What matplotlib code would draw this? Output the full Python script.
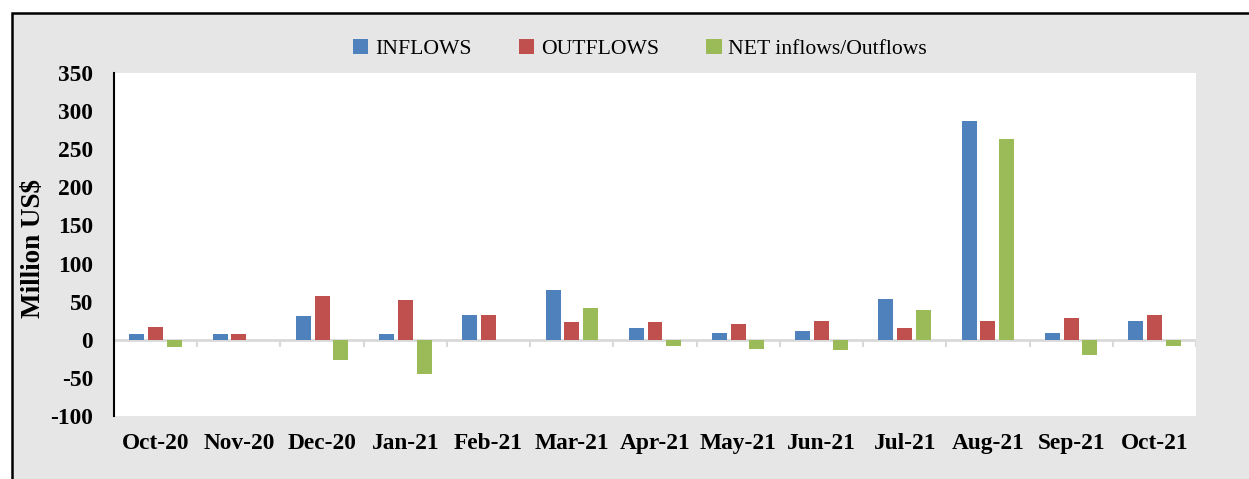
import matplotlib.pyplot as plt
import numpy as np
from matplotlib.patches import Rectangle

months = ['Oct-20', 'Nov-20', 'Dec-20', 'Jan-21', 'Feb-21', 'Mar-21', 'Apr-21',
          'May-21', 'Jun-21', 'Jul-21', 'Aug-21', 'Sep-21', 'Oct-21']
inflows = [7, 8, 31, 7, 33, 65, 15, 9, 11, 54, 287, 9, 24]
outflows = [17, 8, 57, 52, 33, 23, 23, 21, 25, 15, 24, 29, 32]
net = [-10, 0, -26, -45, 0, 42, -8, -12, -14, 39, 263, -20, -8]

plt.rcParams['font.family'] = ['Liberation Serif', 'DejaVu Serif']
plt.rcParams['axes.unicode_minus'] = False

fig = plt.figure(figsize=(12.49, 4.79), dpi=100, facecolor='white')
# gray chart area with black frame (drawn behind the axes)
fig.patches.append(Rectangle((12 / 1249, -0.02), 1.0, 1 - 13 / 479 + 0.02,
                             transform=fig.transFigure, facecolor='#e6e6e6',
                             edgecolor='black', linewidth=1.8, zorder=-1))

ax = fig.add_axes([114 / 1249, 1 - 416 / 479, (1196 - 114) / 1249, (416 - 73) / 479])
ax.set_facecolor('white')

x = np.arange(len(months))
step = 0.225
w = 0.18
ax.bar(x - step, inflows, w, color='#4f81bd', label='INFLOWS', zorder=3)
ax.bar(x, outflows, w, color='#c0504d', label='OUTFLOWS', zorder=3)
ax.bar(x + step, net, w, color='#9bbb59', label='NET inflows/Outflows', zorder=3)

ax.set_xlim(-0.5, len(months) - 0.5)
ax.set_ylim(-100, 350)
ax.set_yticks(range(-100, 351, 50))

# zero line with category separators
ax.axhline(0, color='#d9d9d9', linewidth=2, zorder=2)
ax.vlines(np.arange(len(months) + 1) - 0.5, -9, 0, color='#d9d9d9', linewidth=1.5, zorder=2)

ax.set_xticks(x)
ax.set_xticklabels(months)
ax.tick_params(axis='x', length=0, pad=12)
ax.tick_params(axis='y', length=0, pad=15)
for lab in ax.get_xticklabels() + ax.get_yticklabels():
    lab.set_fontsize(16.8)
    lab.set_fontweight('bold')

for s in ['top', 'right', 'bottom']:
    ax.spines[s].set_visible(False)
ax.spines['left'].set_color('black')
ax.spines['left'].set_linewidth(1.5)

ax.set_ylabel(r'Million US\$', fontsize=19.5, fontweight='bold')
ax.yaxis.set_label_coords(-(114 - 46) / (1196 - 114), 0.5 - 3.5 / 343)

fig.legend(loc='center', bbox_to_anchor=(640 / 1249, 1 - 49 / 479), ncol=3,
           frameon=False, fontsize=15.6, handlelength=0.7, handleheight=0.7,
           handletextpad=0.3, columnspacing=2.2)

fig.savefig('out.png', dpi=100, facecolor=fig.get_facecolor())
